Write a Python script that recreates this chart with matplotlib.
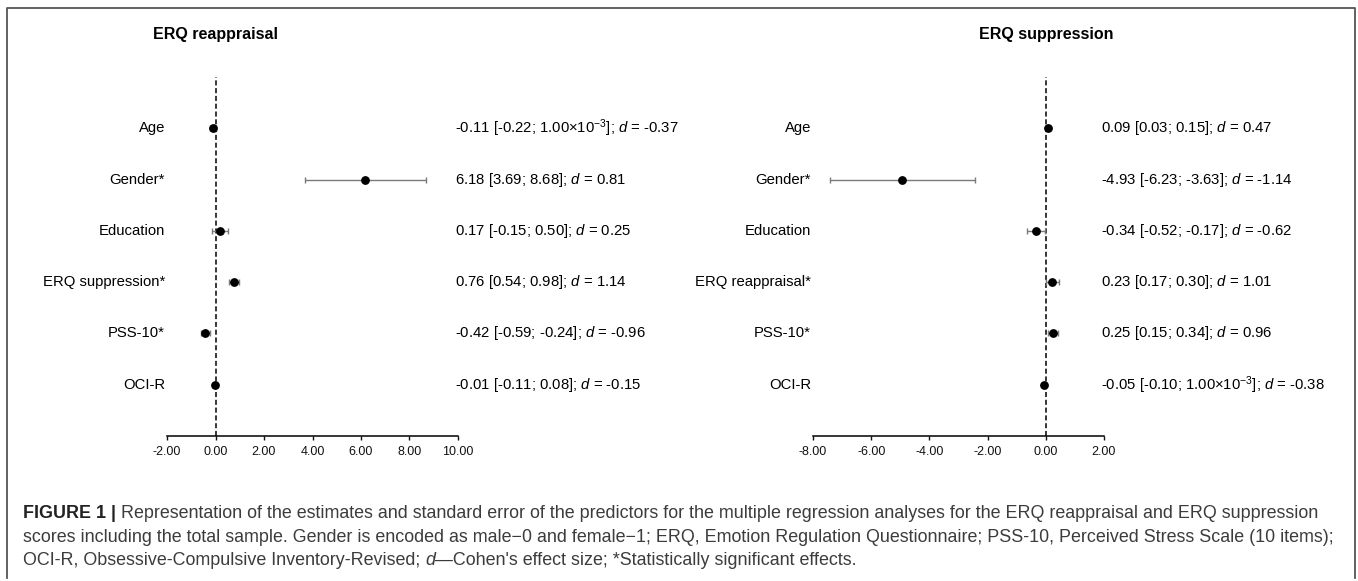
import matplotlib
matplotlib.use("Agg")
import matplotlib.pyplot as plt
from matplotlib.lines import Line2D
from matplotlib.transforms import IdentityTransform

plt.rcParams["font.family"] = "Liberation Sans"
plt.rcParams["mathtext.fontset"] = "custom"
plt.rcParams["mathtext.rm"] = "Liberation Sans"
plt.rcParams["mathtext.it"] = "Liberation Sans:italic"
plt.rcParams["mathtext.bf"] = "Liberation Sans:bold"
plt.rcParams["axes.unicode_minus"] = False

# ERQ reappraisal model
names_reap = ["Age", "Gender*", "Education", "ERQ suppression*", "PSS-10*", "OCI-R"]
est_reap = [-0.11, 6.18, 0.17, 0.76, -0.42, -0.01]
low_reap = [-0.22, 3.69, -0.15, 0.54, -0.59, -0.11]
high_reap = [0.001, 8.68, 0.50, 0.98, -0.24, 0.08]
text_reap = [
    r"-0.11 [-0.22; 1.00×10$^{-3}$]; $d$ = -0.37",
    r"6.18 [3.69; 8.68]; $d$ = 0.81",
    r"0.17 [-0.15; 0.50]; $d$ = 0.25",
    r"0.76 [0.54; 0.98]; $d$ = 1.14",
    r"-0.42 [-0.59; -0.24]; $d$ = -0.96",
    r"-0.01 [-0.11; 0.08]; $d$ = -0.15",
]
ticks_reap = [-2, 0, 2, 4, 6, 8, 10]

# ERQ suppression model (whiskers as drawn in the figure)
names_supp = ["Age", "Gender*", "Education", "ERQ reappraisal*", "PSS-10*", "OCI-R"]
est_supp = [0.09, -4.93, -0.34, 0.23, 0.25, -0.05]
low_supp = [0.03, -7.43, -0.65, 0.02, 0.08, -0.10]
high_supp = [0.15, -2.43, -0.03, 0.45, 0.43, 0.001]
text_supp = [
    r"0.09 [0.03; 0.15]; $d$ = 0.47",
    r"-4.93 [-6.23; -3.63]; $d$ = -1.14",
    r"-0.34 [-0.52; -0.17]; $d$ = -0.62",
    r"0.23 [0.17; 0.30]; $d$ = 1.01",
    r"0.25 [0.15; 0.34]; $d$ = 0.96",
    r"-0.05 [-0.10; 1.00×10$^{-3}$]; $d$ = -0.38",
]
ticks_supp = [-8, -6, -4, -2, 0, 2]

W, H = 1358, 581
fig = plt.figure(figsize=(W / 100, H / 100), dpi=100)


def px_axes(x0, x1, y_top, y_bot):
    return fig.add_axes([x0 / W, 1 - y_bot / H, (x1 - x0) / W, (y_bot - y_top) / H])


def forest(ax, title, names, est, low, high, labels, ticks):
    y = list(range(len(names), 0, -1))
    ax.axvline(0, color="black", lw=1.1, ls=(0, (3.3, 1.8)))
    xerr = [[e - l for e, l in zip(est, low)], [h - e for e, h in zip(est, high)]]
    ax.errorbar(est, y, xerr=xerr, fmt="none", ecolor="#7a7a7a",
                elinewidth=1.0, capsize=2.2, capthick=1.0)
    ax.plot(est, y, "o", color="black", ms=5.3)
    ax.set_xlim(ticks[0], ticks[-1])
    ax.set_ylim(0, len(names) + 1)
    ax.set_xticks(ticks)
    ax.set_xticklabels(["%.2f" % t for t in ticks])
    ax.set_yticks([])
    for s in ["top", "right", "left"]:
        ax.spines[s].set_visible(False)
    ax.spines["bottom"].set_linewidth(1.1)
    ax.tick_params(axis="x", direction="out", length=3, width=1.0,
                   labelsize=9, pad=4, colors="#111111")
    tr = ax.get_yaxis_transform()
    for yi, n, lab in zip(y, names, labels):
        ax.text(-0.007, yi, n, transform=tr, ha="right", va="center", fontsize=10.7)
        ax.text(0.99, yi, lab, transform=tr, ha="left", va="center", fontsize=10.7)
    ax.text(0, len(names) + 1.82, title, ha="center", va="center",
            fontsize=11.5, fontweight="bold")
    ax.patch.set_visible(False)


ax1 = px_axes(167, 458, 77, 436)
forest(ax1, "ERQ reappraisal", names_reap, est_reap, low_reap, high_reap, text_reap, ticks_reap)
ax2 = px_axes(813, 1104, 77, 436)
forest(ax2, "ERQ suppression", names_supp, est_supp, low_supp, high_supp, text_supp, ticks_supp)

# frame around the figure panel
fig.add_artist(Line2D([7 / W, 7 / W, 1355 / W, 1355 / W],
                      [1 - 578 / H, 1 - 8 / H, 1 - 8 / H, 1 - 578 / H],
                      color="#555555", lw=1.3))

# caption, written as runs of differently styled text
renderer = fig.canvas.get_renderer()


def text_runs(x, y_top, parts, size=12.9):
    for s, weight, style, color in parts:
        t = fig.text(x, H - y_top, s, transform=IdentityTransform(), fontsize=size,
                     fontweight=weight, fontstyle=style, color=color, va="baseline")
        x += t.get_window_extent(renderer).width


body = "#3c3c3c"
text_runs(23, 518, [
    ("FIGURE 1 | ", "bold", "normal", "#222222"),
    ("Representation of the estimates and standard error of the predictors for the multiple "
     "regression analyses for the ERQ reappraisal and ERQ suppression", "normal", "normal", body),
])
text_runs(23, 541.5, [
    ("scores including the total sample. Gender is encoded as male\u22120 and female\u22121; ERQ, "
     "Emotion Regulation Questionnaire; PSS-10, Perceived Stress Scale (10 items);",
     "normal", "normal", body),
])
text_runs(23, 565, [
    ("OCI-R, Obsessive-Compulsive Inventory-Revised; ", "normal", "normal", body),
    ("d", "normal", "italic", body),
    ("\u2014Cohen's effect size; *Statistically significant effects.", "normal", "normal", body),
])

fig.savefig("out.png", dpi=100)
